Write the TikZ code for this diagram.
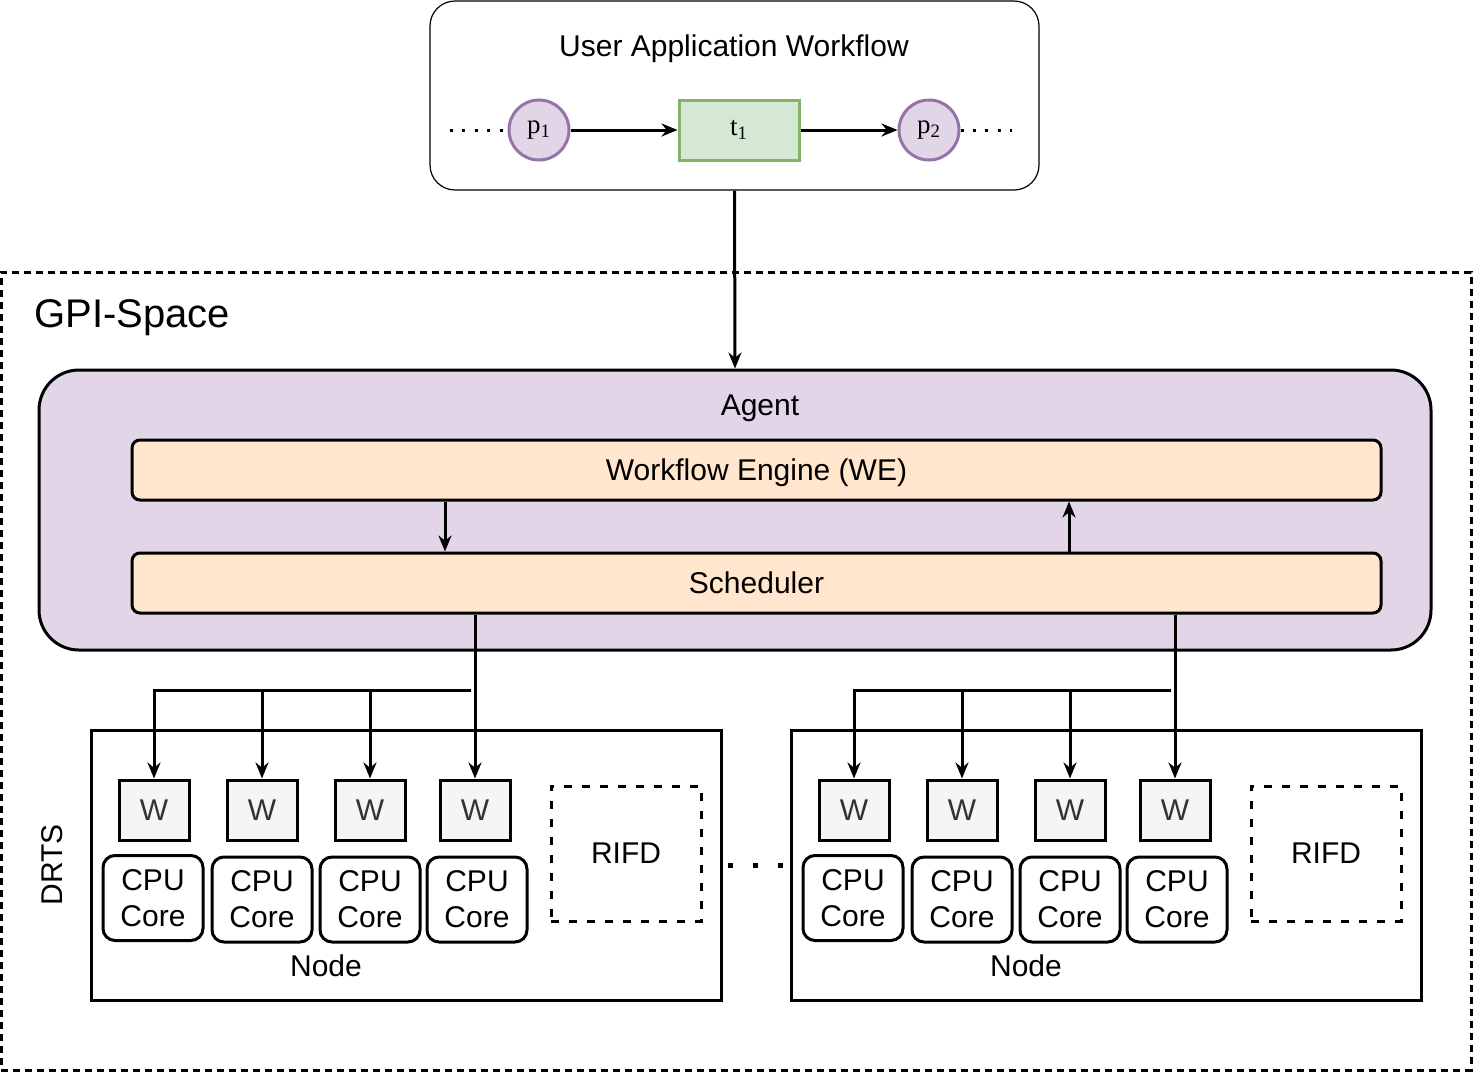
\documentclass[tikz,border=0pt]{standalone}
\usepackage{fontspec}
\setmainfont{Liberation Sans}
\newfontfamily\petrifont{Liberation Serif}
\usepackage{xcolor}
\usepackage{tikz}
\usetikzlibrary{arrows.meta}
\definecolor{placefill}{HTML}{E1D5E7}
\definecolor{placedraw}{HTML}{9673A6}
\definecolor{transfill}{HTML}{D5E8D4}
\definecolor{transdraw}{HTML}{82B366}
\definecolor{enginefill}{HTML}{FFE6CC}
\definecolor{workerfill}{HTML}{F5F5F5}
\definecolor{workertext}{HTML}{333333}
\tikzset{
	main font/.style={font=\fontsize{15}{18}\selectfont},
	place node/.style={circle,draw=placedraw,fill=placefill,minimum size=30pt,inner sep=0pt,font=\fontsize{13.5}{15}\petrifont},
	trans node/.style={rectangle,draw=transdraw,fill=transfill,minimum width=60pt,minimum height=30pt,inner sep=0pt,font=\fontsize{13.5}{15}\petrifont},
	engine node/.style={rectangle,rounded corners=4pt,draw,fill=enginefill,minimum width=624.5pt,minimum height=30pt,text depth=0pt,main font},
	worker node/.style={rectangle,draw,fill=workerfill,text=workertext,minimum width=35pt,minimum height=30pt,inner sep=0pt,main font},
	core node/.style={rectangle,rounded corners=6pt,draw,minimum width=50pt,minimum height=42.5pt,inner sep=0pt,align=center,main font},
	host node/.style={rectangle,draw,minimum width=315pt,minimum height=135pt},
	rifd node/.style={rectangle,draw,dash pattern=on 4pt off 5pt,minimum width=75pt,minimum height=67.5pt,main font},
	dots/.style={-,line width=1.5pt,dash pattern=on 1.5pt off 4.7pt}
}

\begin{document}
\begin{tikzpicture}[->,>={Stealth[length=8pt,width=6.5pt]},x=0.5pt,y=-0.5pt,line width=1.5pt]
	\useasboundingbox (0,0) rectangle (1474,1073);
	% user workflow
	\node [rectangle,draw,line width=0.6pt,rounded corners=12.5pt,minimum width=304.5pt,minimum height=94.5pt] (uaw) at (734.5,95.5) {};
	\node [main font] (uawlbl) at (734,49) {User Application Workflow};
	\node [place node] (p1) at (539,130) {p\textsubscript{1}};
	\node [trans node] (t1) at (739,130) {t\textsubscript{1}};
	\node [place node] (p2) at (929,130) {p\textsubscript{2}};
	\coordinate (dotl) at (450,130);
	\coordinate (dotr) at (1012,130);
	\draw [dots] (dotl) -- (p1.west);
	\draw [dots] (p2.east) -- (dotr);
	\draw (p1) -- (t1);
	\draw (t1) -- (p2);
	% gpi-space
	\node [rectangle,draw,dash pattern=on 3.5pt off 2.5pt,minimum width=735pt,minimum height=399pt] (gpi) at (736,671) {};
	\node [anchor=west,inner sep=0pt,font=\fontsize{20}{24}\selectfont] (gpilbl) at (33,318) {GPI-Space};
	\node [rectangle,draw,fill=placefill,rounded corners=20pt,minimum width=696pt,minimum height=140pt] (agent) at (735,510) {};
	\node [main font] (agentlbl) at (760,408) {Agent};
	\node [engine node] (we) at (756.5,470) {Workflow Engine (WE)};
	\node [engine node] (sched) at (756.5,583) {Scheduler};
	\draw (uaw.south) -- (agent.north);
	\coordinate (down) at (445,0);
	\coordinate (up) at (1069,0);
	\draw (we.south -| down) -- (sched.north -| down);
	\draw (sched.north -| up) -- (we.south -| up);
	% drts nodes
	\node [main font,rotate=90] (drts) at (52,865) {DRTS};
	\foreach \n/\dx in {a/0,b/700}{
		\node [host node] (host\n) at (406+\dx,865) {};
		\node [main font] (hostlbl\n) at (326+\dx,966) {Node};
		\node [rifd node] (rifd\n) at (626+\dx,853.5) {RIFD};
		\foreach \i/\wx/\cx/\cy in {1/154/153/898,2/262/262/899.5,3/370/370/899.5,4/475/477/899.5}{
			\node [worker node] (w\n\i) at (\wx+\dx,810) {W};
			\node [core node] (core\n\i) at (\cx+\dx,\cy) {CPU\\Core};
		}
		\coordinate (bar\n) at (471+\dx,690);
		\draw (sched.south -| w\n4) -- (w\n4);
		\foreach \i in {1,2,3}
			\draw (bar\n) -| (w\n\i);
	}
	\coordinate (gapl) at (728,865);
	\coordinate (gapr) at (786,865);
	\draw [-,line width=2.5pt,dash pattern=on 2.5pt off 10pt] (gapl) -- (gapr);
\end{tikzpicture}
\end{document}
